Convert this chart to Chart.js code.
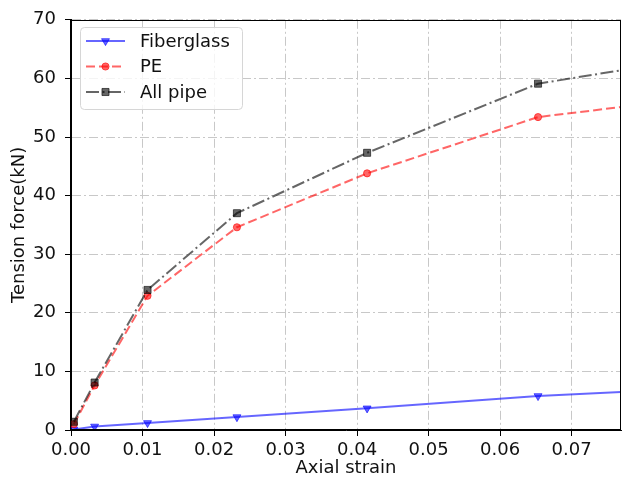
<!DOCTYPE html>
<html>
<head>
<meta charset="utf-8">
<script src="https://cdn.jsdelivr.net/npm/chart.js@4/dist/chart.umd.min.js"></script>
<style>
  html, body { margin: 0; padding: 0; background: #fff; }
  #wrap { width: 627px; height: 479px; }
</style>
</head>
<body>
<div id="wrap"><canvas id="tensionChart" width="627" height="479"></canvas></div>
<script>
// axial strain at each recorded step (last one runs past the axis edge)
const strain = [0.0004, 0.0033, 0.0107, 0.0232, 0.0414, 0.0653, 0.0775];
const fiberglass = [0.1, 0.6, 1.2, 2.2, 3.7, 5.8, 6.5];
const pe = [1.0, 7.6, 22.9, 34.6, 43.8, 53.4, 55.2];
const allPipe = [1.4, 8.1, 23.9, 37.0, 47.3, 59.1, 61.5];

const xTicks = [0, 0.01, 0.02, 0.03, 0.04, 0.05, 0.06, 0.07];
const yTicks = [0, 10, 20, 30, 40, 50, 60, 70];
const seriesNames = ['Fiberglass', 'PE', 'All pipe'];

Chart.defaults.font.family = 'DejaVu Sans';
Chart.defaults.font.size = 18;
Chart.defaults.color = '#111';

function toPoints(ys) {
    return strain.map((x, i) => ({x: x, y: ys[i]}));
}

// marker on every step except the trailing one beyond the axis
function markerRadius(r) {
    return ctx => (ctx.dataIndex < strain.length - 1 ? r : 0);
}

const series = [
    {values: fiberglass, color: 'rgba(0,0,255,0.6)', dash: [], style: 'triangle', rot: 180, r: 4.6},
    {values: pe, color: 'rgba(255,0,0,0.6)', dash: [9, 4], style: 'circle', rot: 0, r: 3.6},
    {values: allPipe, color: 'rgba(0,0,0,0.6)', dash: [13, 3.5, 2, 3.5], style: 'rect', rot: 0, r: 5}
];

const datasets = series.map((s, i) => ({
    label: seriesNames[i],
    data: toPoints(s.values),
    borderColor: s.color,
    backgroundColor: s.color,
    borderWidth: 2,
    borderDash: s.dash,
    pointStyle: s.style,
    pointRotation: s.rot,
    pointRadius: markerRadius(s.r),
    pointBorderWidth: 1,
    pointBackgroundColor: s.color,
    pointBorderColor: s.color,
    markerSize: s.r,
    tension: 0,
    order: series.length - 1 - i
}));

// frame round the plot and a line+marker legend in the upper left
const framePlugin = {
    id: 'frameAndLegend',
    afterDatasetsDraw(chart) {
        const ctx = chart.ctx;
        const a = chart.chartArea;
        ctx.save();
        ctx.strokeStyle = '#000';
        ctx.lineWidth = 1;
        ctx.strokeRect(Math.round(a.left) - 0.5, Math.round(a.top) + 0.5,
            Math.round(a.right - a.left), Math.round(a.bottom - a.top) - 1);

        // legend box
        const bx = 80.5, by = 27.5, bw = 162, bh = 82;
        ctx.beginPath();
        ctx.roundRect(bx, by, bw, bh, 4);
        ctx.fillStyle = 'rgba(255,255,255,0.8)';
        ctx.fill();
        ctx.strokeStyle = '#d6d6d6';
        ctx.stroke();

        chart.data.datasets.forEach((ds, i) => {
            const y = 41 + i * 25.5;
            ctx.save();
            ctx.strokeStyle = ds.borderColor;
            ctx.lineWidth = ds.borderWidth;
            ctx.setLineDash(ds.borderDash);
            ctx.beginPath();
            ctx.moveTo(86, y);
            ctx.lineTo(125, y);
            ctx.stroke();
            ctx.restore();

            ctx.fillStyle = ds.pointBackgroundColor;
            ctx.strokeStyle = ds.pointBorderColor;
            ctx.lineWidth = 1;
            Chart.helpers.drawPoint(ctx, {
                pointStyle: ds.pointStyle,
                rotation: ds.pointRotation,
                radius: ds.markerSize,
                borderWidth: 1
            }, 105.5, y);

            ctx.fillStyle = '#111';
            ctx.font = '18px "DejaVu Sans"';
            ctx.textBaseline = 'middle';
            ctx.textAlign = 'left';
            ctx.fillText(ds.label, 140, y + 1);
        });
        ctx.restore();
    }
};

const gridStyle = {
    color: '#c8c8c8',
    lineWidth: 1,
    tickColor: '#000',
    tickWidth: 1,
    tickLength: 6,
    drawOnChartArea: true
};

new Chart(document.getElementById('tensionChart'), {
    type: 'line',
    data: {datasets: datasets},
    options: {
        responsive: false,
        animation: false,
        layout: {padding: {left: 0, right: 1, top: 17, bottom: 0}},
        plugins: {
            legend: {display: false},
            tooltip: {enabled: false}
        },
        scales: {
            x: {
                type: 'linear',
                min: 0,
                max: 0.0769,
                afterBuildTicks: scale => {
                    scale.ticks = xTicks.map(v => ({value: v}));
                },
                afterFit: scale => { scale.height = 49; },
                ticks: {
                    padding: 4,
                    maxRotation: 0,
                    callback: v => v.toFixed(2)
                },
                grid: gridStyle,
                border: {color: '#000', width: 1, dash: [9, 3, 2, 3]},
                title: {
                    display: true,
                    text: 'Axial strain',
                    padding: {top: 0, bottom: 0}
                }
            },
            y: {
                type: 'linear',
                min: 0,
                max: 70,
                afterBuildTicks: scale => {
                    scale.ticks = yTicks.map(v => ({value: v}));
                },
                afterFit: scale => { scale.width = 71; },
                ticks: {padding: 9},
                grid: gridStyle,
                border: {color: '#000', width: 1, dash: [9, 3, 2, 3]},
                title: {
                    display: true,
                    text: 'Tension force(kN)',
                    padding: {top: 9, bottom: 0}
                }
            }
        }
    },
    plugins: [framePlugin]
});
</script>
</body>
</html>
